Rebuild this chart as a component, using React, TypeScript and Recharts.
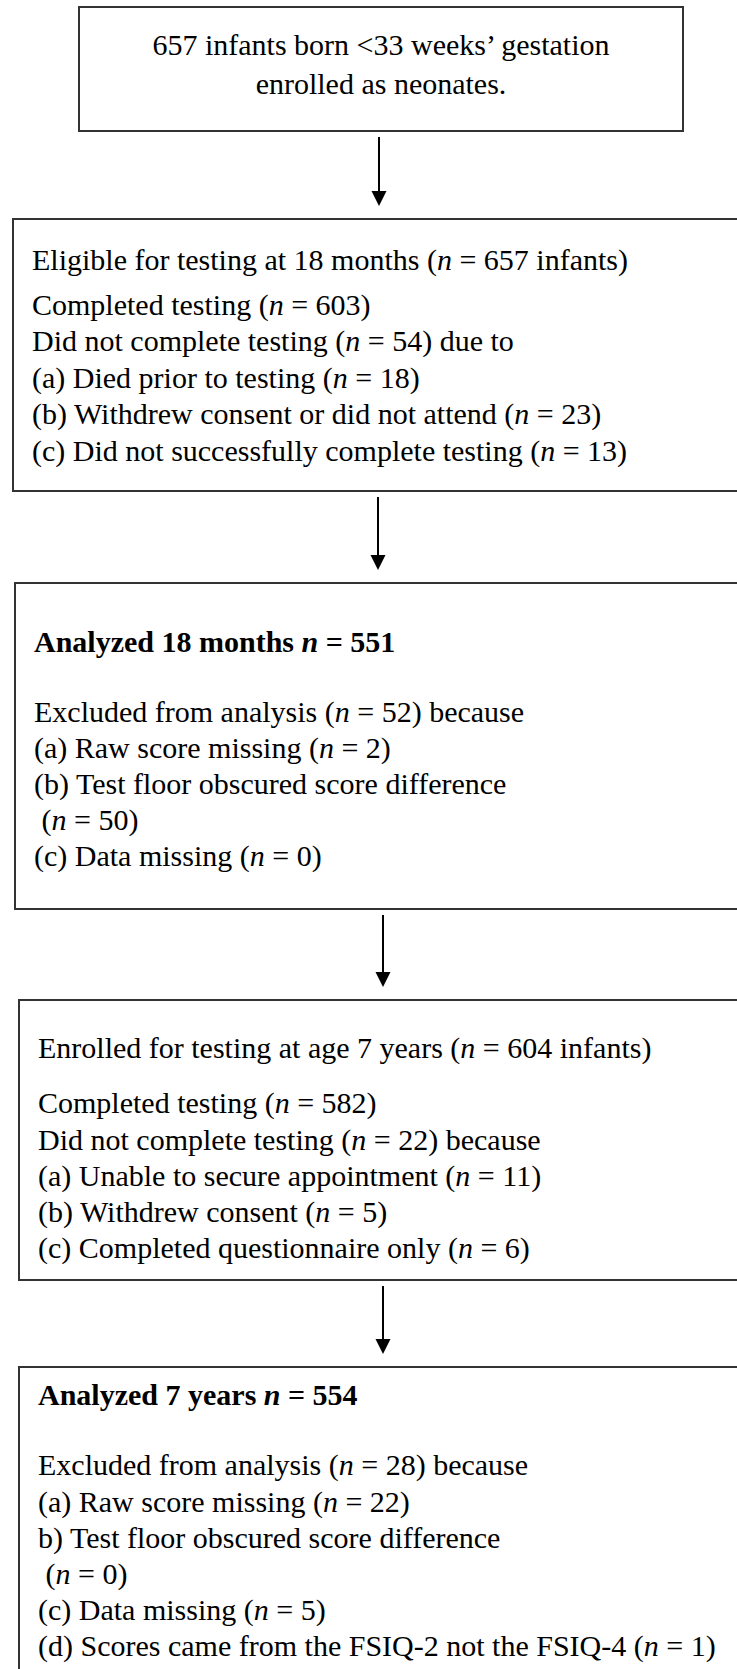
import { ComposedChart, XAxis, YAxis, Scatter, ReferenceArea, ReferenceLine } from "recharts";

const W = 737;
const H = 1669;

// ── Flow content ───────────────────────────────────────────────────────────

const enrolment = ["657 infants born <33 weeks’ gestation", "enrolled as neonates."];

const eligible18 = [
  "Eligible for testing at 18 months (n = 657 infants)",
  "Completed testing (n = 603)",
  "Did not complete testing (n = 54) due to",
  "(a) Died prior to testing (n = 18)",
  "(b) Withdrew consent or did not attend (n = 23)",
  "(c) Did not successfully complete testing (n = 13)",
];

const analyzed18 = [
  "Analyzed 18 months n = 551",
  "Excluded from analysis (n = 52) because",
  "(a) Raw score missing (n = 2)",
  "(b) Test floor obscured score difference",
  " (n = 50)",
  "(c) Data missing (n = 0)",
];

const enrolled7 = [
  "Enrolled for testing at age 7 years (n = 604 infants)",
  "Completed testing (n = 582)",
  "Did not complete testing (n = 22) because",
  "(a) Unable to secure appointment (n = 11)",
  "(b) Withdrew consent (n = 5)",
  "(c) Completed questionnaire only (n = 6)",
];

const analyzed7 = [
  "Analyzed 7 years n = 554",
  "Excluded from analysis (n = 28) because",
  "(a) Raw score missing (n = 22)",
  "b) Test floor obscured score difference",
  " (n = 0)",
  "(c) Data missing (n = 5)",
  "(d) Scores came from the FSIQ-2 not the FSIQ-4 (n = 1)",
];

// ── Layout (pixel space of the chart) ──────────────────────────────────────

const boxes = [
  { lines: enrolment, x1: 79, x2: 683, y1: 7, y2: 131, tx: 381, anchor: "middle", rows: [44, 83], boldFirst: false },
  { lines: eligible18, x1: 13, x2: 760, y1: 219, y2: 491, tx: 32, anchor: "start", rows: [259, 304, 340, 377, 413, 450], boldFirst: false },
  { lines: analyzed18, x1: 15, x2: 760, y1: 583, y2: 909, tx: 34, anchor: "start", rows: [641, 711, 747, 783, 819, 855], boldFirst: true },
  { lines: enrolled7, x1: 19, x2: 760, y1: 1000, y2: 1280, tx: 38, anchor: "start", rows: [1047, 1102, 1139, 1175, 1211, 1247], boldFirst: false },
  { lines: analyzed7, x1: 19, x2: 760, y1: 1367, y2: 1700, tx: 38, anchor: "start", rows: [1394, 1464, 1501, 1537, 1573, 1609, 1645], boldFirst: true },
];

const arrows = [
  { x: 379, from: 137, to: 206 },
  { x: 378, from: 497, to: 570 },
  { x: 383, from: 915, to: 987 },
  { x: 383, from: 1286, to: 1354 },
];

const textRows = boxes.flatMap((b) =>
  b.lines.map((text, i) => ({ x: b.tx, y: b.rows[i], text, bold: b.boldFirst && i === 0, anchor: b.anchor }))
);
const tips = arrows.map((a) => ({ x: a.x, y: a.to }));

// ── Renderers ──────────────────────────────────────────────────────────────

const FONT = "'Liberation Serif', 'Times New Roman', serif";

const TextRow = (props: any) => {
  const { cx, cy } = props;
  const p = props.payload ?? props;
  const parts = String(p.text).split(/(\bn\b(?= =))/);
  return (
    <text x={cx} y={cy} textAnchor={p.anchor} dominantBaseline="central" fontFamily={FONT}
      fontSize={30} fontWeight={p.bold ? "bold" : "normal"} fill="#000" style={{ whiteSpace: "pre" }}>
      {parts.map((s: string, i: number) =>
        s === "n" ? <tspan key={i} fontStyle="italic">n</tspan> : <tspan key={i}>{s}</tspan>
      )}
    </text>
  );
};

const ArrowHead = (props: any) => {
  const { cx, cy } = props;
  return <polygon points={`${cx},${cy} ${cx - 7.5},${cy - 15} ${cx + 7.5},${cy - 15}`} fill="#000" />;
};

export default function App() {
  return (
    <div style={{ position: "absolute", left: 0, top: 0, background: "#fff" }}>
      <ComposedChart width={W} height={H} margin={{ top: 0, right: 0, bottom: 0, left: 0 }}>
        <XAxis type="number" dataKey="x" domain={[0, W]} hide allowDataOverflow />
        <YAxis type="number" dataKey="y" domain={[0, H]} reversed hide allowDataOverflow />

        {boxes.map((b, i) => (
          <ReferenceArea key={`b-${i}`} x1={b.x1} x2={b.x2} y1={b.y1} y2={b.y2}
            fill="none" fillOpacity={0} stroke="#333" strokeWidth={2} ifOverflow="hidden" />
        ))}

        {arrows.map((a, i) => (
          <ReferenceLine key={`a-${i}`} segment={[{ x: a.x, y: a.from }, { x: a.x, y: a.to - 12 }]}
            stroke="#000" strokeWidth={2} />
        ))}

        <Scatter data={tips} shape={<ArrowHead />} isAnimationActive={false} />
        <Scatter data={textRows} shape={<TextRow />} isAnimationActive={false} />
      </ComposedChart>
    </div>
  );
}
